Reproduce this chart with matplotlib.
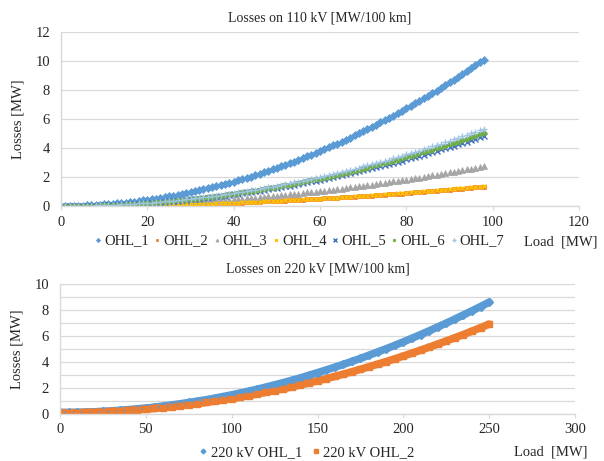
import numpy as np
import matplotlib
matplotlib.use("Agg")
import matplotlib.pyplot as plt

plt.rcParams['font.family'] = ['Liberation Serif', 'DejaVu Serif']
plt.rcParams['font.size'] = 10

# --- 110 kV lines, load 1..98 MW ---
load_110 = list(range(1, 99))

ohl_1 = [0.00, 0.00, 0.01, 0.02, 0.03, 0.04, 0.05, 0.07, 0.09, 0.11,
         0.13, 0.15, 0.18, 0.21, 0.24, 0.27, 0.30, 0.34, 0.38, 0.42,
         0.46, 0.51, 0.56, 0.60, 0.66, 0.71, 0.77, 0.82, 0.88, 0.95,
         1.01, 1.08, 1.14, 1.21, 1.29, 1.36, 1.44, 1.52, 1.60, 1.68,
         1.77, 1.85, 1.94, 2.03, 2.13, 2.22, 2.32, 2.42, 2.52, 2.63,
         2.73, 2.84, 2.95, 3.06, 3.18, 3.29, 3.41, 3.53, 3.66, 3.78,
         3.91, 4.04, 4.17, 4.30, 4.44, 4.57, 4.71, 4.86, 5.00, 5.15,
         5.29, 5.44, 5.60, 5.75, 5.91, 6.06, 6.23, 6.39, 6.55, 6.72,
         6.89, 7.06, 7.23, 7.41, 7.59, 7.77, 7.95, 8.13, 8.32, 8.51,
         8.70, 8.89, 9.08, 9.28, 9.48, 9.68, 9.88, 10.08]

ohl_2 = [0.00, 0.00, 0.00, 0.00, 0.00, 0.00, 0.01, 0.01, 0.01, 0.01,
         0.02, 0.02, 0.02, 0.03, 0.03, 0.04, 0.04, 0.04, 0.05, 0.06,
         0.06, 0.07, 0.07, 0.08, 0.09, 0.09, 0.10, 0.11, 0.12, 0.12,
         0.13, 0.14, 0.15, 0.16, 0.17, 0.18, 0.19, 0.20, 0.21, 0.22,
         0.23, 0.24, 0.26, 0.27, 0.28, 0.29, 0.31, 0.32, 0.33, 0.35,
         0.36, 0.37, 0.39, 0.40, 0.42, 0.43, 0.45, 0.47, 0.48, 0.50,
         0.52, 0.53, 0.55, 0.57, 0.59, 0.60, 0.62, 0.64, 0.66, 0.68,
         0.70, 0.72, 0.74, 0.76, 0.78, 0.80, 0.82, 0.84, 0.86, 0.89,
         0.91, 0.93, 0.95, 0.98, 1.00, 1.02, 1.05, 1.07, 1.10, 1.12,
         1.15, 1.17, 1.20, 1.22, 1.25, 1.28, 1.30, 1.33]

ohl_3 = [0.00, 0.00, 0.00, 0.00, 0.01, 0.01, 0.01, 0.02, 0.02, 0.03,
         0.03, 0.04, 0.05, 0.06, 0.06, 0.07, 0.08, 0.09, 0.10, 0.11,
         0.13, 0.14, 0.15, 0.16, 0.18, 0.19, 0.21, 0.22, 0.24, 0.26,
         0.27, 0.29, 0.31, 0.33, 0.35, 0.37, 0.39, 0.41, 0.43, 0.46,
         0.48, 0.50, 0.53, 0.55, 0.58, 0.60, 0.63, 0.66, 0.68, 0.71,
         0.74, 0.77, 0.80, 0.83, 0.86, 0.89, 0.93, 0.96, 0.99, 1.03,
         1.06, 1.10, 1.13, 1.17, 1.20, 1.24, 1.28, 1.32, 1.36, 1.40,
         1.44, 1.48, 1.52, 1.56, 1.60, 1.65, 1.69, 1.73, 1.78, 1.82,
         1.87, 1.92, 1.96, 2.01, 2.06, 2.11, 2.16, 2.21, 2.26, 2.31,
         2.36, 2.41, 2.47, 2.52, 2.57, 2.63, 2.68, 2.74]

ohl_4 = [0.00, 0.00, 0.00, 0.00, 0.00, 0.01, 0.01, 0.01, 0.01, 0.01,
         0.02, 0.02, 0.02, 0.03, 0.03, 0.04, 0.04, 0.05, 0.05, 0.06,
         0.06, 0.07, 0.08, 0.08, 0.09, 0.10, 0.10, 0.11, 0.12, 0.13,
         0.14, 0.15, 0.16, 0.16, 0.17, 0.18, 0.20, 0.21, 0.22, 0.23,
         0.24, 0.25, 0.26, 0.28, 0.29, 0.30, 0.31, 0.33, 0.34, 0.36,
         0.37, 0.39, 0.40, 0.42, 0.43, 0.45, 0.46, 0.48, 0.50, 0.51,
         0.53, 0.55, 0.57, 0.58, 0.60, 0.62, 0.64, 0.66, 0.68, 0.70,
         0.72, 0.74, 0.76, 0.78, 0.80, 0.82, 0.84, 0.87, 0.89, 0.91,
         0.93, 0.96, 0.98, 1.01, 1.03, 1.05, 1.08, 1.10, 1.13, 1.15,
         1.18, 1.21, 1.23, 1.26, 1.29, 1.31, 1.34, 1.37]

ohl_5 = [0.00, 0.00, 0.00, 0.01, 0.01, 0.02, 0.02, 0.03, 0.04, 0.05,
         0.06, 0.07, 0.08, 0.10, 0.11, 0.13, 0.14, 0.16, 0.18, 0.20,
         0.22, 0.24, 0.27, 0.29, 0.31, 0.34, 0.37, 0.39, 0.42, 0.45,
         0.48, 0.51, 0.55, 0.58, 0.61, 0.65, 0.69, 0.72, 0.76, 0.80,
         0.84, 0.89, 0.93, 0.97, 1.02, 1.06, 1.11, 1.16, 1.21, 1.25,
         1.31, 1.36, 1.41, 1.46, 1.52, 1.57, 1.63, 1.69, 1.75, 1.81,
         1.87, 1.93, 1.99, 2.06, 2.12, 2.19, 2.25, 2.32, 2.39, 2.46,
         2.53, 2.60, 2.67, 2.75, 2.82, 2.90, 2.98, 3.05, 3.13, 3.21,
         3.29, 3.37, 3.46, 3.54, 3.63, 3.71, 3.80, 3.89, 3.98, 4.07,
         4.16, 4.25, 4.34, 4.44, 4.53, 4.63, 4.72, 4.82]

ohl_6 = [0.00, 0.00, 0.00, 0.01, 0.01, 0.02, 0.03, 0.03, 0.04, 0.05,
         0.06, 0.08, 0.09, 0.10, 0.12, 0.13, 0.15, 0.17, 0.19, 0.21,
         0.23, 0.25, 0.28, 0.30, 0.33, 0.35, 0.38, 0.41, 0.44, 0.47,
         0.50, 0.54, 0.57, 0.61, 0.64, 0.68, 0.72, 0.76, 0.80, 0.84,
         0.88, 0.93, 0.97, 1.02, 1.06, 1.11, 1.16, 1.21, 1.26, 1.31,
         1.37, 1.42, 1.47, 1.53, 1.59, 1.65, 1.71, 1.77, 1.83, 1.89,
         1.95, 2.02, 2.08, 2.15, 2.22, 2.29, 2.36, 2.43, 2.50, 2.57,
         2.65, 2.72, 2.80, 2.87, 2.95, 3.03, 3.11, 3.19, 3.28, 3.36,
         3.44, 3.53, 3.62, 3.70, 3.79, 3.88, 3.97, 4.07, 4.16, 4.25,
         4.35, 4.44, 4.54, 4.64, 4.74, 4.84, 4.94, 5.04]

ohl_7 = [0.00, 0.00, 0.00, 0.01, 0.01, 0.02, 0.03, 0.04, 0.04, 0.06,
         0.07, 0.08, 0.09, 0.11, 0.12, 0.14, 0.16, 0.18, 0.20, 0.22,
         0.24, 0.27, 0.29, 0.32, 0.35, 0.37, 0.40, 0.43, 0.47, 0.50,
         0.53, 0.57, 0.60, 0.64, 0.68, 0.72, 0.76, 0.80, 0.84, 0.89,
         0.93, 0.98, 1.02, 1.07, 1.12, 1.17, 1.22, 1.28, 1.33, 1.39,
         1.44, 1.50, 1.56, 1.62, 1.68, 1.74, 1.80, 1.86, 1.93, 2.00,
         2.06, 2.13, 2.20, 2.27, 2.34, 2.42, 2.49, 2.56, 2.64, 2.72,
         2.79, 2.87, 2.95, 3.04, 3.12, 3.20, 3.29, 3.37, 3.46, 3.55,
         3.64, 3.73, 3.82, 3.91, 4.01, 4.10, 4.20, 4.29, 4.39, 4.49,
         4.59, 4.69, 4.79, 4.90, 5.00, 5.11, 5.22, 5.32]

# --- 220 kV lines, load 0..250 MW ---
load_220 = list(range(0, 251, 5))

ohl220_1 = [0.08, 0.08, 0.09, 0.11, 0.13, 0.17, 0.20, 0.25, 0.30, 0.36,
            0.42, 0.49, 0.57, 0.66, 0.75, 0.85, 0.95, 1.06, 1.18, 1.31,
            1.44, 1.58, 1.73, 1.88, 2.04, 2.21, 2.38, 2.56, 2.75, 2.95,
            3.15, 3.36, 3.57, 3.79, 4.02, 4.25, 4.50, 4.75, 5.00, 5.26,
            5.53, 5.81, 6.09, 6.38, 6.68, 6.98, 7.29, 7.61, 7.93, 8.26,
            8.60]

ohl220_2 = [0.06, 0.06, 0.07, 0.08, 0.10, 0.13, 0.16, 0.19, 0.24, 0.28,
            0.33, 0.39, 0.45, 0.52, 0.60, 0.68, 0.76, 0.85, 0.95, 1.05,
            1.15, 1.27, 1.38, 1.51, 1.64, 1.77, 1.91, 2.05, 2.21, 2.36,
            2.52, 2.69, 2.86, 3.04, 3.22, 3.41, 3.61, 3.81, 4.01, 4.22,
            4.44, 4.66, 4.89, 5.12, 5.36, 5.60, 5.85, 6.10, 6.36, 6.63,
            6.90]

series_110 = [("OHL_1", ohl_1), ("OHL_2", ohl_2), ("OHL_3", ohl_3), ("OHL_4", ohl_4),
              ("OHL_5", ohl_5), ("OHL_6", ohl_6), ("OHL_7", ohl_7)]
colors_110 = ['#5B9BD5', '#ED7D31', '#A5A5A5', '#FFC000', '#4472C4', '#70AD47', '#9DC3E6']
markers_110 = ['D', 's', '^', 'x', 'x', 'o', '+']
sizes_110 = [4, 3.5, 4, 3.5, 4, 3.5, 4.5]

text_col = '#262626'
grid_col = '#D9D9D9'

fig = plt.figure(figsize=(6.04, 4.61), dpi=100)

def style_axes(ax):
    for s in ['top', 'right']:
        ax.spines[s].set_visible(False)
    for s in ['left', 'bottom']:
        ax.spines[s].set_color(grid_col)
        ax.spines[s].set_linewidth(1)
    ax.tick_params(axis='y', length=0, pad=8, colors=text_col, labelsize=10.5)
    ax.tick_params(axis='x', length=3, pad=4, colors=text_col, labelsize=10.5)
    ax.tick_params(axis='x', color=grid_col)
    ax.grid(axis='y', which='both', color=grid_col, linewidth=0.9)
    ax.set_axisbelow(True)

# top chart
ax1 = fig.add_axes([61/604, 1-206/461, (579-61)/604, (206-31.7)/461])
for (name, vals), c, m, s in zip(series_110, colors_110, markers_110, sizes_110):
    ax1.plot(load_110, vals, ls='none', marker=m, ms=s, color=c, mec=c,
             mew=1.0 if m in 'x+' else 0.5, label=name)
ax1.set_xlim(0, 120)
ax1.set_ylim(0, 12)
ax1.set_xticks(range(0, 121, 20))
ax1.set_yticks(range(0, 13, 2))
style_axes(ax1)
ax1.set_title("Losses on 110 kV [MW/100 km]", fontsize=10, color=text_col, pad=7)
ax1.set_ylabel("Losses [MW]", fontsize=10.5, color=text_col, labelpad=8)
fig.legend(*ax1.get_legend_handles_labels(), loc='center',
           bbox_to_anchor=(300/604, 1-241/461), ncol=7, frameon=False,
           fontsize=10.5, handlelength=0.35, handletextpad=0.25,
           columnspacing=0.4, markerscale=0.55, labelcolor=text_col,
           borderpad=0.1)
fig.text(597/604, 1-242/461, "Load  [MW]", ha='right', va='center',
         fontsize=10.5, color=text_col)

# bottom chart
ax2 = fig.add_axes([60/604, 1-413.5/461, (575-60)/604, (413.5-284)/461])
ax2.plot(load_220, ohl220_1, color='#5B9BD5', lw=5.5, solid_capstyle='round')
ax2.plot(load_220, ohl220_2, color='#ED7D31', lw=5.5, solid_capstyle='round')
ax2.plot(load_220, ohl220_1, ls='none', marker='D', ms=4, color='#5B9BD5',
         label="220 kV OHL_1")
ax2.plot(load_220, ohl220_2, ls='none', marker='s', ms=4, color='#ED7D31',
         label="220 kV OHL_2")
ax2.set_xlim(0, 300)
ax2.set_ylim(0, 10)
ax2.set_xticks(range(0, 301, 50))
ax2.set_yticks(range(0, 11, 2))
ax2.set_yticks(range(1, 10, 2), minor=True)
ax2.tick_params(axis='y', which='minor', length=0)
style_axes(ax2)
ax2.set_title("Losses on 220 kV [MW/100 km]", fontsize=10, color=text_col, pad=8)
ax2.set_ylabel("Losses [MW]", fontsize=10.5, color=text_col, labelpad=8)
fig.legend(*ax2.get_legend_handles_labels(), loc='center',
           bbox_to_anchor=(307/604, 1-453/461), ncol=2, frameon=False,
           fontsize=10.5, handlelength=0.5, handletextpad=0.25,
           columnspacing=0.7, markerscale=0.6, labelcolor=text_col,
           borderpad=0.1)
fig.text(587/604, 1-452/461, "Load  [MW]", ha='right', va='center',
         fontsize=10.5, color=text_col)

fig.savefig("out.png", dpi=100)
